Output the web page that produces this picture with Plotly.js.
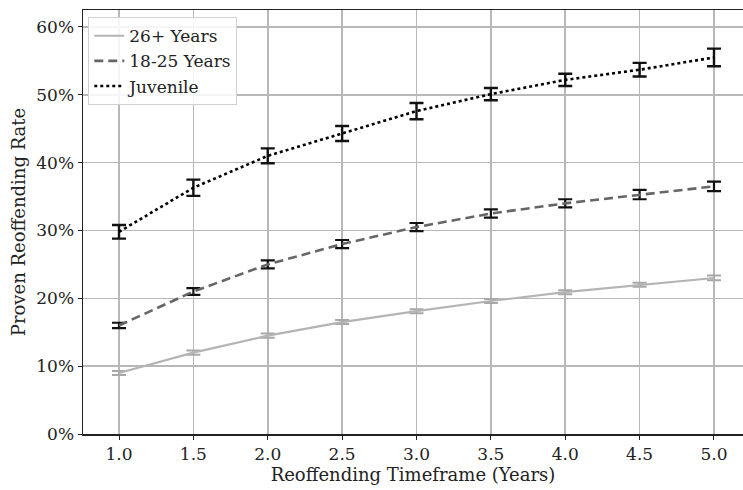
<!DOCTYPE html>
<html><head><meta charset="utf-8">
<script src="https://cdn.plot.ly/plotly-3.0.1.min.js"></script>
<style>body{margin:0;padding:0;background:#fff}#chart{width:743px;height:490px}</style>
</head><body><div id="chart"></div>
<script>
var years = [1.0, 1.5, 2.0, 2.5, 3.0, 3.5, 4.0, 4.5, 5.0];
var adult26 = [9.0, 12.0, 14.5, 16.5, 18.1, 19.6, 20.9, 22.0, 23.0];
var adult26Err = [0.3, 0.3, 0.3, 0.3, 0.3, 0.3, 0.3, 0.3, 0.35];
var young1825 = [16.0, 21.0, 25.0, 28.0, 30.5, 32.5, 34.0, 35.3, 36.5];
var young1825Err = [0.4, 0.5, 0.6, 0.6, 0.6, 0.6, 0.6, 0.7, 0.7];
var juvenile = [29.8, 36.3, 41.0, 44.3, 47.6, 50.1, 52.2, 53.7, 55.5];
var juvenileErr = [1.0, 1.2, 1.1, 1.1, 1.2, 0.9, 0.9, 1.0, 1.3];
var seriesNames = ["26+ Years", "18-25 Years", "Juvenile"];
var xTicks = [1.0, 1.5, 2.0, 2.5, 3.0, 3.5, 4.0, 4.5, 5.0];
var xTickText = ["1.0","1.5","2.0","2.5","3.0","3.5","4.0","4.5","5.0"];
var yTicks = [0, 10, 20, 30, 40, 50, 60];
var yTickText = ["0%","10%","20%","30%","40%","50%","60%"];

var traces = [
  {x: years, y: adult26, name: seriesNames[0], mode: 'lines', type: 'scatter',
   line: {color: '#b4b4b4', width: 2.2},
   error_y: {type: 'data', array: adult26Err, visible: true, color: '#a8a8a8', thickness: 2, width: 7}},
  {x: years, y: young1825, name: seriesNames[1], mode: 'lines', type: 'scatter',
   line: {color: '#666666', width: 2.6, dash: '9px,5px'},
   error_y: {type: 'data', array: young1825Err, visible: true, color: '#111111', thickness: 2.2, width: 7}},
  {x: years, y: juvenile, name: seriesNames[2], mode: 'lines', type: 'scatter',
   line: {color: '#000000', width: 2.6, dash: 'dot'},
   error_y: {type: 'data', array: juvenileErr, visible: true, color: '#111111', thickness: 2.4, width: 7}}
];

var serif = 'DejaVu Serif, serif';
var layout = {
  width: 743, height: 490,
  margin: {l: 83, r: 0, t: 10, b: 56},
  paper_bgcolor: '#fff', plot_bgcolor: '#fff',
  font: {family: serif, size: 17, color: '#222'},
  showlegend: true,
  legend: {x: 0.008, y: 0.983, xanchor: 'left', yanchor: 'top',
    bgcolor: 'rgba(255,255,255,0.85)', bordercolor: '#d0d0d0', borderwidth: 1,
    tracegroupgap: 0, entrywidth: 180, entrywidthmode: 'pixels',
    font: {family: serif, size: 17, color: '#222'}},
  xaxis: {range: [0.758, 5.195], tickmode: 'array', tickvals: xTicks, ticktext: xTickText,
    showgrid: true, gridcolor: '#b8b8b8', gridwidth: 1.5,
    showline: true, linecolor: '#222', linewidth: 1.5, mirror: true,
    ticks: 'outside', ticklen: 4, tickcolor: '#222', zeroline: false, automargin: true,
    tickfont: {family: serif, size: 17, color: '#222'},
    title: {text: 'Reoffending Timeframe (Years)', font: {family: serif, size: 18, color: '#222'}, standoff: 0}},
  yaxis: {range: [0, 62.5], tickmode: 'array', tickvals: yTicks, ticktext: yTickText,
    showgrid: true, gridcolor: '#b8b8b8', gridwidth: 1.5,
    showline: true, linecolor: '#222', linewidth: 1.5, mirror: true,
    ticks: 'outside', ticklen: 4, tickcolor: '#222', zeroline: false,
    tickfont: {family: serif, size: 17, color: '#222'},
    title: {text: 'Proven Reoffending Rate', font: {family: serif, size: 18, color: '#222'}, standoff: 6}}
};
Plotly.newPlot('chart', traces, layout, {displayModeBar: false, staticPlot: true});
</script></body></html>
